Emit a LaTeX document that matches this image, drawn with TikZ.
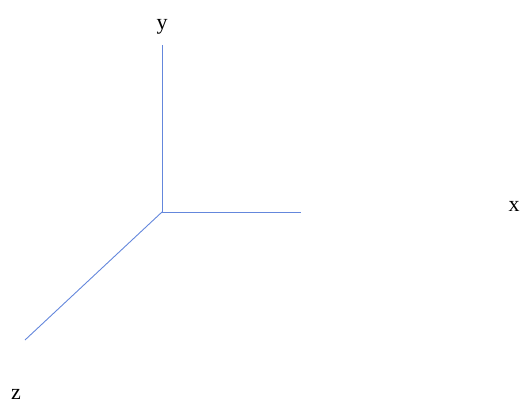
\documentclass[tikz,border=0pt]{standalone}
\usepackage{fontspec}
\setmainfont{Liberation Serif}
\definecolor{axisblue}{RGB}{100,135,220}
\tikzset{axis/.style={draw=axisblue,line width=0.9pt},
  axislabel/.style={font=\fontsize{22}{26}\selectfont,inner sep=0pt}}
\begin{document}
\begin{tikzpicture}[x=1pt,y=-1pt]
\useasboundingbox (0,0) rectangle (524,403);
\coordinate (o) at (162,212);
\coordinate (xend) at (301,212);
\coordinate (yend) at (162,45);
\coordinate (zend) at (25,340);
\node[axislabel] (xlab) at (514,206) {x};
\node[axislabel] (ylab) at (162,27) {y};
\node[axislabel] (zlab) at (16,394) {z};
\draw[axis] (o) -- (xend);
\draw[axis] (o) -- (yend);
\draw[axis] (o) -- (zend);
\end{tikzpicture}
\end{document}
